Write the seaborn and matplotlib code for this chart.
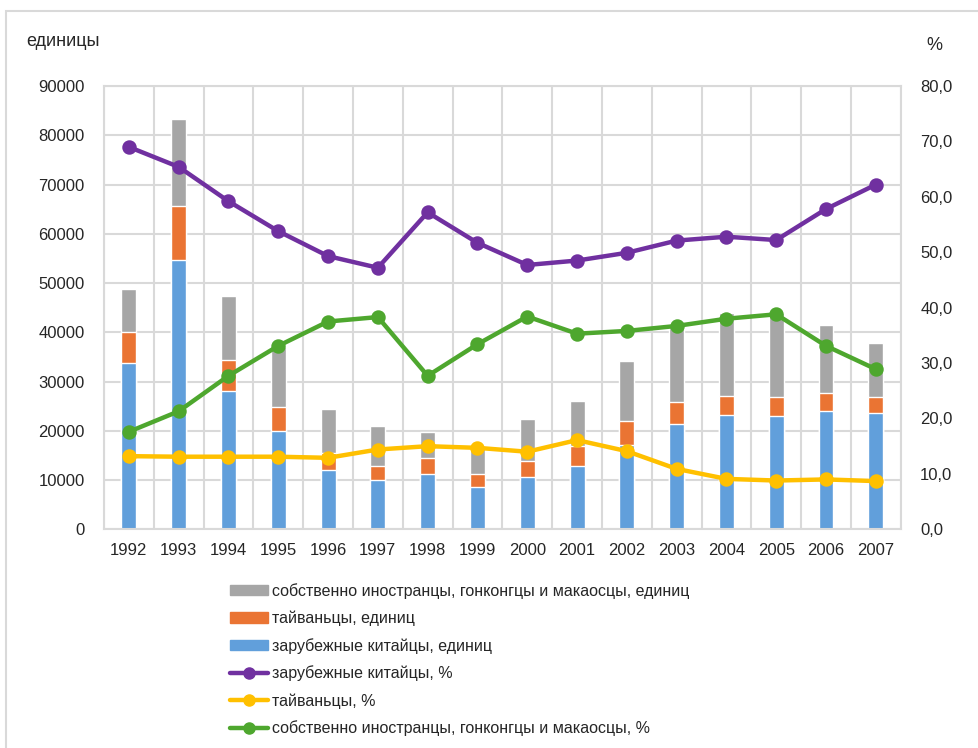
import numpy as np
import pandas as pd
import matplotlib
matplotlib.use("Agg")
import matplotlib.pyplot as plt
import matplotlib.patches as mpatches
from matplotlib.lines import Line2D
from matplotlib.ticker import FuncFormatter, MultipleLocator
import seaborn as sns

# --- data ---
years = [str(y) for y in range(1992, 2008)]

# enterprises, units
overseas_units = [33700, 54700, 28000, 19900, 12100, 10000, 11300, 8600,
                  10600, 12800, 17100, 21300, 23200, 23000, 24000, 23600]
taiwan_units = [6400, 10900, 6300, 4900, 3300, 2900, 3100, 2700,
                3200, 4100, 4900, 4500, 3900, 3800, 3600, 3200]
foreign_units = [8600, 17800, 13100, 12200, 9100, 8000, 5300, 5400,
                 8500, 9100, 12100, 15300, 16800, 17100, 13900, 11100]

# shares, %
overseas_pct = [69.0, 65.4, 59.2, 53.8, 49.3, 47.2, 57.2, 51.7,
                47.7, 48.5, 49.9, 52.1, 52.8, 52.2, 57.8, 62.2]
taiwan_pct = [13.2, 13.1, 13.1, 13.1, 12.9, 14.4, 15.0, 14.7,
              14.0, 16.1, 14.1, 10.9, 9.1, 8.8, 9.0, 8.7]
foreign_pct = [17.6, 21.3, 27.7, 33.1, 37.5, 38.3, 27.7, 33.4,
               38.4, 35.3, 35.8, 36.7, 38.0, 38.8, 33.1, 28.9]

lbl_foreign_u = "собственно иностранцы, гонконгцы и макаосцы, единиц"
lbl_taiwan_u = "тайваньцы, единиц"
lbl_overseas_u = "зарубежные китайцы, единиц"
lbl_overseas_p = "зарубежные китайцы, %"
lbl_taiwan_p = "тайваньцы, %"
lbl_foreign_p = "собственно иностранцы, гонконгцы и макаосцы, %"

c_blue, c_orange, c_gray = "#619FDB", "#EA7433", "#A6A6A6"
c_purple, c_yellow, c_green = "#7030A0", "#FFC000", "#4EA72E"
grid_c = "#D9D9D9"

df = pd.DataFrame({
    "year": years,
    "blue": overseas_units,
    "orange": taiwan_units,
    "gray": foreign_units,
})
df["b_o"] = df["blue"] + df["orange"]
df["total"] = df["b_o"] + df["gray"]

sns.set_style("white")
plt.rcParams["font.family"] = ["Liberation Sans", "DejaVu Sans"]
plt.rcParams["font.size"] = 11

fig = plt.figure(figsize=(9.79, 7.48), dpi=100)
ax = fig.add_axes([104 / 979, 1 - 529.3 / 748, 796.7 / 979, 443.3 / 748])

# stacked bars: draw cumulative totals back to front
sns.barplot(data=df, x="year", y="total", color=c_gray, width=0.3,
            saturation=1, ax=ax, zorder=2)
sns.barplot(data=df, x="year", y="b_o", color=c_orange, width=0.3,
            saturation=1, ax=ax, zorder=2)
sns.barplot(data=df, x="year", y="blue", color=c_blue, width=0.3,
            saturation=1, ax=ax, zorder=2)

ax.set_ylim(0, 90000)
ax.yaxis.set_major_locator(MultipleLocator(10000))
ax.set_xlim(-0.5, len(years) - 0.5)
ax.set_xticks(np.arange(-0.5, len(years), 1.0), minor=True)
ax.grid(True, which="major", axis="y", color=grid_c, lw=1.5, zorder=0)
ax.grid(True, which="minor", axis="x", color=grid_c, lw=1.5, zorder=0)
ax.grid(False, which="major", axis="x")
ax.set_axisbelow(True)
ax.set_xlabel("")
ax.set_ylabel("")
ax.tick_params(axis="both", which="both", length=0)
ax.tick_params(axis="y", pad=14, labelsize=12, colors="#262626")
ax.tick_params(axis="x", pad=10, labelsize=12, colors="#262626")
for s in ax.spines.values():
    s.set_color(grid_c)
    s.set_linewidth(1.5)

# percentage lines on the right axis
ax2 = ax.twinx()
for vals, col in [(overseas_pct, c_purple), (taiwan_pct, c_yellow),
                  (foreign_pct, c_green)]:
    sns.pointplot(x=years, y=vals, color=col, markers="o", markersize=8,
                  linewidth=3.2, ax=ax2)
ax2.set_ylim(0, 80)
ax2.set_xlim(-0.5, len(years) - 0.5)
ax2.yaxis.set_major_locator(MultipleLocator(10))
ax2.yaxis.set_major_formatter(FuncFormatter(lambda v, p: f"{v:.1f}".replace(".", ",")))
ax2.tick_params(axis="y", length=0, pad=14, labelsize=12, colors="#262626")
ax2.set_ylabel("")
for s in ax2.spines.values():
    s.set_visible(False)

fig.text(26 / 979, 1 - 42 / 748, "единицы", fontsize=13, color="#262626",
         ha="left", va="center")
fig.text(934 / 979, 1 - 45 / 748, "%", fontsize=13, color="#262626",
         ha="center", va="center")

handles = [
    mpatches.Patch(color=c_gray, label=lbl_foreign_u),
    mpatches.Patch(color=c_orange, label=lbl_taiwan_u),
    mpatches.Patch(color=c_blue, label=lbl_overseas_u),
    Line2D([], [], color=c_purple, lw=3.2, marker="o", ms=8, label=lbl_overseas_p),
    Line2D([], [], color=c_yellow, lw=3.2, marker="o", ms=8, label=lbl_taiwan_p),
    Line2D([], [], color=c_green, lw=3.2, marker="o", ms=8, label=lbl_foreign_p),
]
fig.legend(handles=handles, loc="upper left",
           bbox_to_anchor=(230 / 979, 1 - 583 / 748), frameon=False,
           fontsize=11.5, handlelength=2.4, handleheight=0.6,
           handletextpad=0.25, labelspacing=0.74, borderpad=0,
           borderaxespad=0, labelcolor="#262626")

# outer chart frame
fig.patches.append(mpatches.Rectangle((6 / 979, -0.1), 1.2, 1.1 - 11 / 748,
                                      transform=fig.transFigure, fill=False,
                                      edgecolor=grid_c, lw=1.5))

fig.savefig("out.png", dpi=100)
